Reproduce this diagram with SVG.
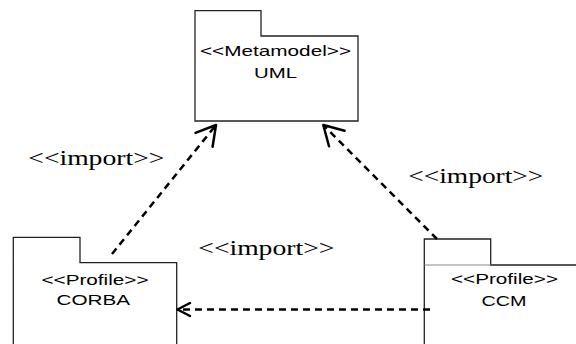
<svg xmlns="http://www.w3.org/2000/svg" width="576" height="344" viewBox="0 0 576 344">
<style>
.pkg{fill:none;stroke:#222;stroke-width:1.3}
.sep{fill:none;stroke:#888;stroke-width:1}
.sans{font-family:"Liberation Sans",Arial,sans-serif;font-size:15px;fill:#000}
.serif{font-family:"Liberation Serif","Times New Roman",serif;font-size:20px;fill:#000}
.dash{fill:none;stroke:#000;stroke-width:2.5;stroke-dasharray:7,5}
.head{fill:none;stroke:#000;stroke-width:2.5;stroke-linecap:round;stroke-linejoin:round}
</style>
<rect x="0" y="0" width="576" height="344" fill="#fff"/>
<g id="uml">
<path class="pkg" d="M195,121 V10.7 H261 V36 H358 V121 Z"/>
<text class="sans" x="200" y="56" textLength="151" lengthAdjust="spacingAndGlyphs">&lt;&lt;Metamodel&gt;&gt;</text>
<text class="sans" x="254" y="78" textLength="43" lengthAdjust="spacingAndGlyphs">UML</text>
</g>
<g id="corba">
<path class="pkg" d="M13.3,345 V237.3 H80 V262.7 H176.7 V345"/>
<text class="sans" x="41.5" y="285" textLength="107" lengthAdjust="spacingAndGlyphs">&lt;&lt;Profile&gt;&gt;</text>
<text class="sans" x="56.5" y="305" textLength="73.5" lengthAdjust="spacingAndGlyphs">CORBA</text>
</g>
<g id="ccm">
<path class="pkg" d="M424.3,345 V239 H490.7 V265 H577"/>
<path class="sep" d="M424.3,265 H490.7"/>
<text class="sans" x="451" y="283.5" textLength="107" lengthAdjust="spacingAndGlyphs">&lt;&lt;Profile&gt;&gt;</text>
<text class="sans" x="481.5" y="305.5" textLength="45" lengthAdjust="spacingAndGlyphs">CCM</text>
</g>
<g id="connectors">
<path class="dash" d="M112,254 L216,125"/>
<polyline class="head" points="195.5,132.9 216,125 212.6,146.8"/>
<path class="dash" d="M437,239 L323.3,125"/>
<polyline class="head" points="329,146.3 323.3,125 344.6,130.7"/>
<path class="dash" d="M430,309.5 L177.5,309.5"/>
<polyline class="head" points="190,303 177.5,309.5 190,316"/>
</g>
<g id="labels">
<text class="serif" x="28.3" y="165" textLength="136" lengthAdjust="spacingAndGlyphs">&lt;&lt;import&gt;&gt;</text>
<text class="serif" x="408.3" y="183.3" textLength="135" lengthAdjust="spacingAndGlyphs">&lt;&lt;import&gt;&gt;</text>
<text class="serif" x="198.3" y="255" textLength="136" lengthAdjust="spacingAndGlyphs">&lt;&lt;import&gt;&gt;</text>
</g>
</svg>
